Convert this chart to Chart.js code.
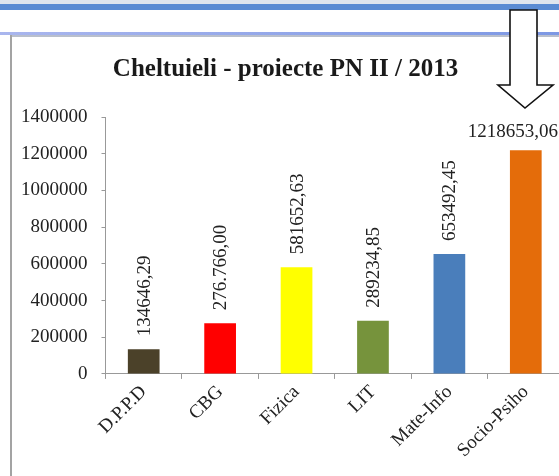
<!DOCTYPE html>
<html>
<head>
  <title>Cheltuieli - proiecte PN II / 2013</title>
  <meta charset="UTF-8">
  <script src="https://cdn.jsdelivr.net/npm/chart.js"></script>
  <style>
    html, body {
      margin: 0;
      padding: 0;
      width: 559px;
      height: 476px;
      overflow: hidden;
      background: #fff;
    }
    .band-top { position: absolute; left: 0; top: 0; width: 559px; height: 4px; background: #dfe5ee; }
    .line-top { position: absolute; left: 0; top: 4px; width: 559px; height: 6px; background: #5a8bd3; }
    .line-frame { position: absolute; left: 0; top: 32px; width: 559px; height: 3px; background: linear-gradient(to right, #a9b6ee, #7d98e4); }
    .line-frame2 { position: absolute; left: 10px; top: 35px; width: 549px; height: 2px; background: #b9bfcc; }
    .frame-left { position: absolute; left: 10px; top: 35px; width: 2px; height: 441px; background: #a3a3a3; }
    #grafik { position: absolute; left: 0; top: 0; }
    #sageata { position: absolute; left: 0; top: 0; }
  </style>
</head>
<body>

  <div class="band-top"></div>
  <div class="line-top"></div>
  <div class="line-frame"></div>
  <div class="line-frame2"></div>
  <div class="frame-left"></div>

  <canvas id="grafik" width="579" height="476"></canvas>

  <svg id="sageata" width="559" height="476">
    <polygon points="510,10 537,10 537,85 553,85 525,108 498,85 510,85"
             fill="#fff" stroke="#111" stroke-width="1.6" stroke-linejoin="miter"/>
  </svg>

  <script>
    // date
    const categorii = ['D.P.P.D', 'CBG', 'Fizica', 'LIT', 'Mate-Info', 'Socio-Psiho'];
    const valori = [134646.29, 276766.00, 581652.63, 289234.85, 653492.45, 1218653.06];
    const etichete = ['134646,29', '276.766,00', '581652,63', '289234,85', '653492,45', '1218653,06'];
    const culori = ['#4b4129', '#ff0000', '#ffff00', '#76933c', '#4a7ebb', '#e46c0a'];
    const yMax = 1400000;
    const yPas = 200000;

    const fontSerif = '"Liberation Serif", "Times New Roman", serif';

    // etichete de valoare deasupra barelor
    const pluginEtichete = {
      id: 'etichete',
      afterDatasetsDraw(chart) {
        const ctx = chart.ctx;
        const meta = chart.getDatasetMeta(0);
        ctx.save();
        ctx.fillStyle = '#222';
        ctx.font = '19px ' + fontSerif;
        meta.data.forEach((bar, i) => {
          const txt = etichete[i];
          if (i === meta.data.length - 1) {
            // ultima bara e prea inalta, eticheta orizontala
            ctx.textAlign = 'center';
            ctx.textBaseline = 'bottom';
            ctx.fillText(txt, bar.x - 13, bar.y - 9);
          } else {
            ctx.save();
            ctx.translate(bar.x + 1, bar.y - 13);
            ctx.rotate(-Math.PI / 2);
            ctx.textAlign = 'left';
            ctx.textBaseline = 'middle';
            ctx.fillText(txt, 0, 0);
            ctx.restore();
          }
        });
        ctx.restore();
      }
    };

    const ctx = document.getElementById('grafik').getContext('2d');
    const chart = new Chart(ctx, {
      type: 'bar',
      data: {
        labels: categorii,
        datasets: [{
          data: valori,
          backgroundColor: culori,
          borderWidth: 0,
          barPercentage: 0.415,
          categoryPercentage: 1.0
        }]
      },
      options: {
        responsive: false,
        animation: false,
        devicePixelRatio: 1,
        layout: {
          padding: { left: 7, right: 15, top: 0, bottom: 12 }
        },
        plugins: {
          legend: { display: false },
          tooltip: { enabled: false },
          title: {
            display: true,
            text: 'Cheltuieli - proiecte PN II / 2013',
            color: '#1a1a1a',
            font: { family: fontSerif, size: 25, weight: 'bold' },
            padding: { top: 55, bottom: 32 }
          }
        },
        scales: {
          x: {
            grid: {
              display: true,
              drawOnChartArea: false,
              offset: true,
              tickLength: 5,
              color: '#999'
            },
            border: { color: '#999' },
            ticks: {
              color: '#222',
              font: { family: fontSerif, size: 19 },
              maxRotation: 45,
              minRotation: 45,
              padding: 2
            }
          },
          y: {
            min: 0,
            max: yMax,
            grid: {
              display: true,
              drawOnChartArea: false,
              tickLength: 4,
              color: '#999'
            },
            border: { color: '#999' },
            ticks: {
              stepSize: yPas,
              color: '#222',
              font: { family: fontSerif, size: 19 },
              padding: 14,
              callback: v => String(v)
            }
          }
        }
      },
      plugins: [pluginEtichete]
    });
  </script>

</body>
</html>
